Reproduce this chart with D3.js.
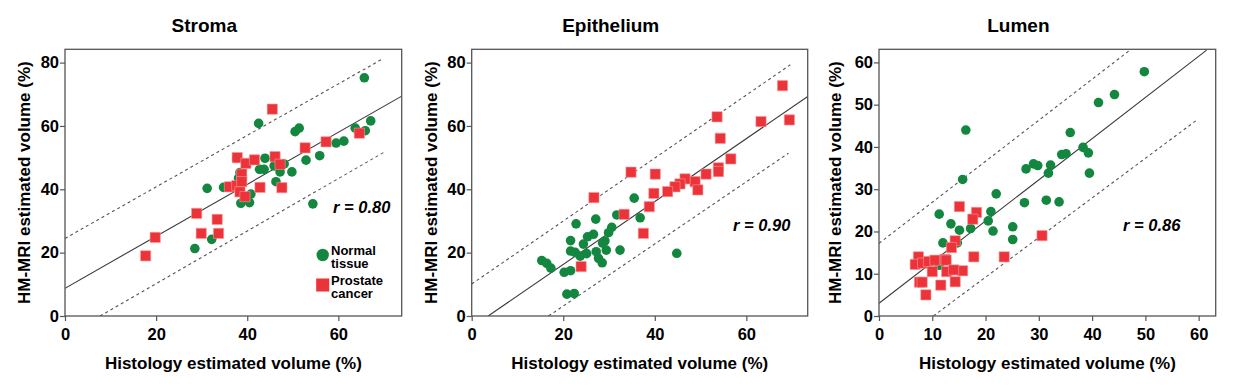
<!DOCTYPE html>
<html>
<head>
<meta charset="utf-8">
<script src="https://cdn.jsdelivr.net/npm/d3@7"></script>
<style>
  body { margin: 0; background: #fff; }
  text { font-family: "Liberation Sans", Arial, sans-serif; }
</style>
</head>
<body>
<script>
'use strict';

const panelTitles = ['Stroma', 'Epithelium', 'Lumen'];
const rValues = ['0.80', '0.90', '0.86'];
const xTicks = [[0, 20, 40, 60], [0, 20, 40, 60], [0, 10, 20, 30, 40, 50, 60]];
const yTicks = [[0, 20, 40, 60, 80], [0, 20, 40, 60, 80], [0, 10, 20, 30, 40, 50, 60]];
const legendLabels = [['Normal', 'tissue'], ['Prostate', 'cancer']];

// [histology, HM-MRI]
const stromaNormal = [
  [65.7, 75.2], [42.5, 60.8], [50.5, 58.2], [51.4, 59.3], [63.7, 59.3], [67.1, 61.6],
  [65.9, 58.5], [59.5, 54.6], [61.2, 55.2], [52.9, 49.2], [55.9, 50.6], [49.8, 45.5],
  [43.9, 49.8], [42.7, 46.3], [43.7, 46.3], [45.9, 47.4], [47.2, 45.5], [48.1, 48.0],
  [46.3, 42.4], [54.4, 35.4], [31.2, 40.3], [34.8, 40.6], [37.7, 49.8], [38.4, 45.3],
  [38.1, 43.5], [40.8, 38.5], [38.6, 35.6], [40.5, 35.8], [32.2, 24.2], [28.5, 21.3]
];
const stromaCancer = [
  [45.5, 65.3], [52.7, 53.1], [57.3, 55.0], [64.6, 57.7], [37.8, 50.0], [39.7, 48.2],
  [41.6, 49.3], [46.1, 50.3], [47.2, 47.9], [38.8, 44.8], [36.1, 40.8], [37.7, 41.2],
  [38.8, 42.4], [38.4, 39.2], [39.5, 37.7], [42.8, 40.6], [47.6, 40.5], [28.9, 32.4],
  [33.4, 30.5], [29.9, 26.1], [33.7, 26.1], [19.8, 24.8], [17.7, 19.0]
];
const epitheliumNormal = [
  [35.5, 37.2], [36.8, 31.0], [31.7, 31.9], [27.1, 30.6], [22.8, 29.1], [30.6, 28.0],
  [29.9, 26.3], [26.6, 25.8], [25.3, 25.0], [24.4, 22.7], [21.6, 23.8], [29.1, 23.7],
  [28.6, 23.0], [29.4, 20.8], [27.2, 20.3], [32.4, 20.8], [21.6, 20.5], [22.6, 20.1],
  [23.7, 18.9], [25.1, 19.7], [27.7, 18.2], [28.5, 16.8], [15.3, 17.5], [16.4, 16.6],
  [17.3, 15.1], [20.2, 13.8], [21.6, 14.3], [20.8, 6.9], [22.4, 7.1], [44.8, 19.8]
];
const epitheliumCancer = [
  [67.9, 72.7], [53.6, 62.9], [63.2, 61.4], [69.4, 61.9], [54.3, 56.1], [56.6, 49.6],
  [53.9, 46.8], [53.9, 45.6], [51.2, 44.8], [48.8, 42.4], [49.4, 39.8], [46.6, 43.3],
  [45.5, 41.7], [44.4, 40.8], [42.8, 39.3], [40.1, 44.8], [39.8, 38.7], [38.8, 34.5],
  [34.8, 45.4], [26.7, 37.4], [33.3, 32.1], [37.5, 26.1], [23.9, 15.6]
];
const lumenNormal = [
  [49.8, 57.8], [44.2, 52.4], [41.2, 50.5], [35.9, 43.4], [38.3, 39.9], [39.3, 38.6],
  [34.3, 38.2], [35.1, 38.4], [39.5, 33.8], [32.2, 35.7], [31.8, 33.8], [29.0, 36.0],
  [29.8, 35.6], [27.6, 34.8], [33.8, 27.0], [31.4, 27.4], [27.3, 26.8], [22.0, 28.9],
  [21.0, 24.7], [20.5, 22.5], [21.4, 20.1], [25.1, 21.1], [25.1, 18.1], [16.3, 44.0],
  [15.7, 32.3], [11.3, 24.1], [13.5, 21.8], [15.1, 20.3], [17.2, 20.7], [12.0, 17.3],
  [14.7, 17.3], [11.3, 12.0]
];
const lumenCancer = [
  [15.1, 25.9], [18.3, 24.5], [17.6, 22.9], [30.6, 19.0], [14.3, 17.8], [13.6, 16.2],
  [17.8, 14.0], [23.5, 14.0], [7.4, 14.0], [6.8, 12.2], [8.2, 12.5], [9.3, 12.9],
  [10.5, 13.2], [12.4, 13.4], [10.0, 10.5], [12.7, 10.5], [15.7, 10.7], [7.6, 8.0],
  [8.1, 8.0], [11.6, 7.3], [14.3, 8.1], [8.8, 5.0], [12.6, 13.2], [14.0, 10.9]
];

// fit line and prediction bounds, end points in data units
const stromaFit = [[0, 8.75], [74, 69.5]];
const stromaUpper = [[0, 24.5], [69.5, 81]];
const stromaLower = [[7.7, 0], [69.9, 51.6]];
const epitheliumFit = [[3.6, 0], [73.4, 69.3]];
const epitheliumUpper = [[0, 10.1], [69.6, 79.3]];
const epitheliumLower = [[16.8, 0], [69.2, 51.4]];
const lumenFit = [[0, 3.0], [61.5, 62.9]];
const lumenUpper = [[0, 17.2], [47.1, 62.9]];
const lumenLower = [[10.2, 0], [59.7, 46.4]];

const normalSets = [stromaNormal, epitheliumNormal, lumenNormal];
const cancerSets = [stromaCancer, epitheliumCancer, lumenCancer];
const fitLines = [stromaFit, epitheliumFit, lumenFit];
const upperLines = [stromaUpper, epitheliumUpper, lumenUpper];
const lowerLines = [stromaLower, epitheliumLower, lumenLower];

const panels = [
  { left: 65, right: 401.7, xMax: 73.9, yMax: 84.2, yLabelOff: 35, rX: 333, rY: 213 },
  { left: 471.7, right: 807.7, xMax: 73.4, yMax: 84.2, yLabelOff: 35, rX: 733, rY: 231 },
  { left: 879, right: 1215.7, xMax: 63.2, yMax: 63.1, yLabelOff: 38, rX: 1123, rY: 231 }
];
const plotTop = 49.3;
const plotBottom = 316;
const green = '#13873f';
const red = '#ec3339';
const frameColor = '#555';

const svg = d3.select('body').append('svg')
  .attr('width', 1257)
  .attr('height', 387);

panels.forEach(function (p, i) {
  const x = d3.scaleLinear().domain([0, p.xMax]).range([p.left, p.right]);
  const y = d3.scaleLinear().domain([0, p.yMax]).range([plotBottom, plotTop]);
  const g = svg.append('g');
  const midX = (p.left + p.right) / 2;

  g.append('text')
    .attr('x', midX - 29)
    .attr('y', 32)
    .attr('text-anchor', 'middle')
    .style('font-size', '19px')
    .style('font-weight', 'bold')
    .text(panelTitles[i]);

  const clipId = 'clip' + i;
  g.append('clipPath').attr('id', clipId)
    .append('rect')
    .attr('x', p.left).attr('y', plotTop)
    .attr('width', p.right - p.left).attr('height', plotBottom - plotTop);

  const plot = g.append('g').attr('clip-path', `url(#${clipId})`);
  const line = d3.line()
    .x(function (d) { return x(d[0]); })
    .y(function (d) { return y(d[1]); });

  plot.append('path')
    .datum(fitLines[i])
    .attr('d', line)
    .attr('fill', 'none')
    .attr('stroke', '#3a3a3a')
    .attr('stroke-width', 1.1);

  [upperLines[i], lowerLines[i]].forEach(function (l) {
    plot.append('path')
      .datum(l)
      .attr('d', line)
      .attr('fill', 'none')
      .attr('stroke', '#555')
      .attr('stroke-width', 1.1)
      .attr('stroke-dasharray', '3,3');
  });

  plot.selectAll('circle.normal')
    .data(normalSets[i])
    .enter().append('circle')
    .attr('class', 'normal')
    .attr('cx', function (d) { return x(d[0]); })
    .attr('cy', function (d) { return y(d[1]); })
    .attr('r', 4.8)
    .attr('fill', green);

  plot.selectAll('path.cancer')
    .data(cancerSets[i])
    .enter().append('path')
    .attr('class', 'cancer')
    .attr('d', d3.symbol().type(d3.symbolSquare).size(105))
    .attr('transform', function (d) { return `translate(${x(d[0])},${y(d[1])})`; })
    .attr('fill', red)
    .attr('stroke', '#f59a9a')
    .attr('stroke-width', 0.6);

  const xAxis = d3.axisBottom(x).tickValues(xTicks[i]).tickSize(5).tickPadding(7);
  const yAxis = d3.axisLeft(y).tickValues(yTicks[i]).tickSize(5).tickPadding(1);

  const xg = g.append('g').attr('transform', `translate(0,${plotBottom})`).call(xAxis);
  const yg = g.append('g').attr('transform', `translate(${p.left},0)`).call(yAxis);
  [xg, yg].forEach(function (a) {
    a.select('.domain').remove();
    a.selectAll('line').attr('stroke', frameColor).attr('stroke-width', 1.2);
    a.selectAll('text')
      .attr('fill', '#000')
      .style('font-size', '16.5px')
      .style('font-weight', 'bold')
      .style('font-family', '"Liberation Sans", Arial, sans-serif');
  });

  g.append('rect')
    .attr('x', p.left).attr('y', plotTop)
    .attr('width', p.right - p.left).attr('height', plotBottom - plotTop)
    .attr('fill', 'none')
    .attr('stroke', frameColor)
    .attr('stroke-width', 1.3);

  g.append('text')
    .attr('x', midX)
    .attr('y', 368.5)
    .attr('text-anchor', 'middle')
    .style('font-size', '17px')
    .style('font-weight', 'bold')
    .text('Histology estimated volume (%)');

  g.append('text')
    .attr('transform', `translate(${p.left - p.yLabelOff},${(plotTop + plotBottom) / 2}) rotate(-90)`)
    .attr('text-anchor', 'middle')
    .style('font-size', '17px')
    .style('font-weight', 'bold')
    .text('HM-MRI estimated volume (%)');

  g.append('text')
    .attr('x', p.rX)
    .attr('y', p.rY)
    .style('font-size', '16.5px')
    .style('font-weight', 'bold')
    .style('font-style', 'italic')
    .text('r = ' + rValues[i]);
});

// legend in the first panel
const legend = svg.append('g');
legend.append('circle')
  .attr('cx', 322.7).attr('cy', 255)
  .attr('r', 6.2)
  .attr('fill', green);
legend.append('path')
  .attr('d', d3.symbol().type(d3.symbolSquare).size(170))
  .attr('transform', 'translate(322.7,285)')
  .attr('fill', red);
legendLabels.forEach(function (lines, i) {
  const t = legend.append('text')
    .attr('x', 331)
    .attr('y', 255 + i * 30)
    .style('font-size', '13px')
    .style('font-weight', 'bold');
  lines.forEach(function (s, j) {
    t.append('tspan').attr('x', 331).attr('dy', j === 0 ? 0 : 12.5).text(s);
  });
});
</script>
</body>
</html>
